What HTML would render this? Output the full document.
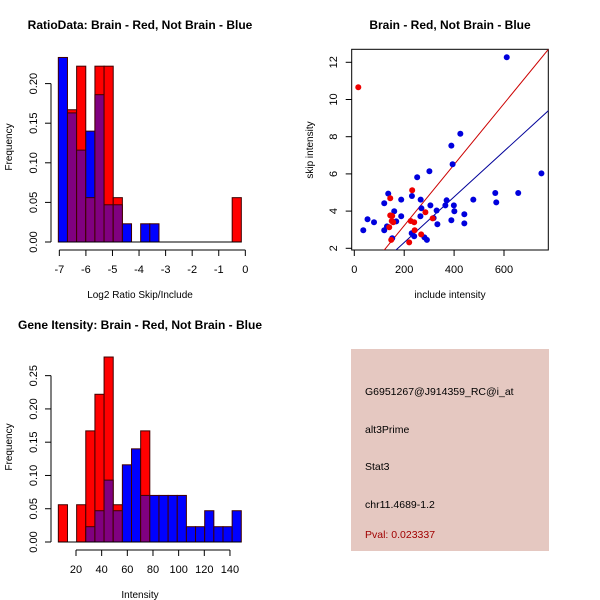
<!DOCTYPE html>
<html><head><meta charset="utf-8"><style>
body{margin:0;background:#fff}
svg{display:block;font-family:"Liberation Sans",sans-serif}
</style></head><body>
<svg id="c" width="600" height="600" viewBox="0 0 600 600">
<rect width="600" height="600" fill="#fff"/>
</svg>
<script>
// ---- Panel 1: ratio histogram ----
const ratioBinStart = -7.038;
const ratioBinWidth = 0.3444;
const ratioBlue = [0.233,0.163,0.116,0.140,0.186,0.047,0.047,0.023,0,0.023,0.023,0,0,0,0,0,0,0,0,0];
const ratioRed  = [0,0.167,0.222,0.056,0.222,0.222,0.056,0,0,0,0,0,0,0,0,0,0,0,0,0.056];
const ratioXTicks = [-7,-6,-5,-4,-3,-2,-1,0];
const ratioYTicks = [0,0.05,0.10,0.15,0.20];
const ratioYLabels = ["0.00","0.05","0.10","0.15","0.20"];
// ---- Panel 2: scatter ----
const blueX = [36,53,79,120,120,131,136,152,160,168,188,188,231,230,240,252,265,266,269,281,291,301,305,318,330,333,365,370,389,389,394,399,401,425,441,441,477,565,569,611,657,750];
const blueY = [2.97,3.56,3.40,4.42,2.97,3.18,4.94,2.54,3.99,3.45,4.62,3.72,4.81,2.81,2.65,5.82,3.72,4.62,4.15,2.59,2.45,6.14,4.31,3.63,4.03,3.29,4.31,4.58,3.51,7.52,6.52,4.31,3.99,8.16,3.83,3.34,4.62,4.97,4.47,12.27,4.97,6.03];
const redX = [16,144,140,144,150,152,156,148,232,226,240,242,220,285,268,314];
const redY = [10.66,4.69,3.13,3.77,3.47,3.74,3.40,2.45,5.12,3.47,3.40,2.97,2.32,3.94,2.75,3.61];
const redFit = [-0.06,0.0164];   // intercept, slope
const blueFit = [-0.14,0.01226];
const scXTicks = [0,200,400,600];
const scYTicks = [2,4,6,8,10,12];
// ---- Panel 3: intensity histogram ----
const intBinStart = 6.23;
const intBinWidth = 7.13;
const intRed  = [0.056,0,0.056,0.167,0.222,0.278,0.056,0,0,0.167,0,0,0,0,0,0,0,0,0,0];
const intBlue = [0,0,0,0.023,0.047,0.093,0.047,0.116,0.140,0.070,0.070,0.070,0.070,0.070,0.023,0.023,0.047,0.023,0.023,0.047];
const intXTicks = [20,40,60,80,100,120,140];
const intYTicks = [0,0.05,0.10,0.15,0.20,0.25];
const intYLabels = ["0.00","0.05","0.10","0.15","0.20","0.25"];
// ---- Panel 4: info ----
const infoLines = ["G6951267@J914359_RC@i_at","alt3Prime","Stat3","chr11.4689-1.2"];
const infoPval = "Pval: 0.023337";

const svg = document.getElementById('c');
const NS = 'http://www.w3.org/2000/svg';
function mk(tag, attrs, parent){
  const e = document.createElementNS(NS, tag);
  for (const k in attrs) e.setAttribute(k, attrs[k]);
  (parent||svg).appendChild(e);
  return e;
}
function txt(s, x, y, size, opts, parent){
  const t = mk('text', Object.assign({x:x, y:y, 'font-size':size, fill:'#000'}, opts||{}), parent);
  t.textContent = s;
  return t;
}

function histogram(cfg){
  const g = mk('g', {});
  
  
  const n = cfg.blue.length;
  for (let i=0;i<n;i++){
    const x0 = cfg.sx(cfg.start + i*cfg.width), x1 = cfg.sx(cfg.start + (i+1)*cfg.width);
    const b = cfg.blue[i], r = cfg.red[i];
    const lo = Math.min(b,r), hi = Math.max(b,r);
    if (hi <= 0) continue;
    const topColor = b > r ? '#0000ff' : '#ff0000';
    const bar = mk('rect', {x:x0, y:cfg.sy(hi), width:x1-x0, height:cfg.sy(0)-cfg.sy(hi), fill:topColor, stroke:'#400000', 'stroke-width':1}, g);
    
    
    if (lo > 0){
      const ov = mk('rect', {x:x0, y:cfg.sy(lo), width:x1-x0, height:cfg.sy(0)-cfg.sy(lo), fill:'#800080', stroke:'#400000', 'stroke-width':1}, g);
      
      
    }
  }
  mk('line', {x1:cfg.sx(cfg.start), x2:cfg.sx(cfg.start+n*cfg.width), y1:cfg.sy(0), y2:cfg.sy(0), stroke:'#000'}, g);
  const ya = mk('g', {}, g);
  
  
  const yt = cfg.yTicks;
  mk('line', {x1:cfg.axX, x2:cfg.axX, y1:cfg.sy(yt[0]), y2:cfg.sy(yt[yt.length-1]), stroke:'#000'}, ya);
  yt.forEach((v,i)=>{
    mk('line', {x1:cfg.axX-6, x2:cfg.axX, y1:cfg.sy(v), y2:cfg.sy(v), stroke:'#000'}, ya);
    const yy = cfg.sy(v);
    const lx = cfg.axX-14;
    txt(cfg.yLabels[i], lx, yy, 11, {'text-anchor':'middle', transform:'rotate(-90 '+lx+' '+yy+')'}, ya);
  });
  const xa = mk('g', {}, g);
  
  
  const xt = cfg.xTicks;
  mk('line', {x1:cfg.sx(xt[0]), x2:cfg.sx(xt[xt.length-1]), y1:cfg.axY, y2:cfg.axY, stroke:'#000'}, xa);
  xt.forEach(v=>{
    mk('line', {x1:cfg.sx(v), x2:cfg.sx(v), y1:cfg.axY, y2:cfg.axY+6, stroke:'#000'}, xa);
    txt(String(v), cfg.sx(v), cfg.axY+23, 11, {'text-anchor':'middle'}, xa);
  });
  const t = txt(cfg.title, cfg.titleX, cfg.titleY, 12, {'text-anchor':'middle', 'font-weight':'bold'});
  
  
  const xl = txt(cfg.xLabel, cfg.titleX, cfg.xLabelY, 10, {'text-anchor':'middle'});
  
  
  const ylx = 12, yly = cfg.yLabelY;
  const yl = txt('Frequency', ylx, yly, 10, {'text-anchor':'middle', transform:'rotate(-90 '+ylx+' '+yly+')'});
  
  
}

histogram({
  name:'ratio-histogram', blue:ratioBlue, red:ratioRed, start:ratioBinStart, width:ratioBinWidth,
  sx: v => 59.33 + (v + 7) * 26.57,
  sy: v => 242 - v / 0.05 * 39.6,
  axX: 51, axY: 250, xTicks: ratioXTicks, yTicks: ratioYTicks, yLabels: ratioYLabels,
  title: 'RatioData: Brain - Red, Not Brain - Blue', titleX: 140, titleY: 29,
  xLabel: 'Log2 Ratio Skip/Include', xLabelY: 298, yLabelY: 147
});

histogram({
  name:'intensity-histogram', blue:intBlue, red:intRed, start:intBinStart, width:intBinWidth,
  sx: v => 76 + (v - 20) * 1.283,
  sy: v => 542 - v / 0.05 * 33.27,
  axX: 51, axY: 550, xTicks: intXTicks, yTicks: intYTicks, yLabels: intYLabels,
  title: 'Gene Itensity: Brain - Red, Not Brain - Blue', titleX: 140, titleY: 329,
  xLabel: 'Intensity', xLabelY: 598, yLabelY: 447
});

(function(){
  const sx = v => 354.3 + v * 0.2495;
  const sy = v => 248.3 - (v - 2) * 18.6;
  const g = mk('g', {});
  
  
  const box = mk('rect', {x:351.7, y:49.3, width:196.6, height:200.7, fill:'none', stroke:'#000'}, g);
  
  
  const clip = mk('clipPath', {id:'scclip'}, g);
  mk('rect', {x:351.7, y:49.3, width:196.6, height:200.7}, clip);
  const xmin = -10, xmax = 790;
  const rl = mk('line', {x1:sx(xmin), y1:sy(redFit[0]+redFit[1]*xmin), x2:sx(xmax), y2:sy(redFit[0]+redFit[1]*xmax), stroke:'#cc0000', 'clip-path':'url(#scclip)'}, g);
  
  
  const bl = mk('line', {x1:sx(xmin), y1:sy(blueFit[0]+blueFit[1]*xmin), x2:sx(xmax), y2:sy(blueFit[0]+blueFit[1]*xmax), stroke:'#000099', 'clip-path':'url(#scclip)'}, g);
  
  
  blueX.forEach((x,i)=>{
    const p = mk('circle', {cx:sx(x), cy:sy(blueY[i]), r:3, fill:'#0000dd'}, g);
    
    
  });
  redX.forEach((x,i)=>{
    const p = mk('circle', {cx:sx(x), cy:sy(redY[i]), r:3, fill:'#ee0000'}, g);
    
    
  });
  const xa = mk('g', {}, g);
  
  
  scXTicks.forEach(v=>{
    mk('line', {x1:sx(v), x2:sx(v), y1:250, y2:256, stroke:'#000'}, xa);
    txt(String(v), sx(v), 273, 11, {'text-anchor':'middle'}, xa);
  });
  const ya = mk('g', {}, g);
  
  
  scYTicks.forEach(v=>{
    mk('line', {x1:345.7, x2:351.7, y1:sy(v), y2:sy(v), stroke:'#000'}, ya);
    txt(String(v), 337, sy(v), 11, {'text-anchor':'middle', transform:'rotate(-90 337 '+sy(v)+')'}, ya);
  });
  const t = txt('Brain - Red, Not Brain - Blue', 450, 29, 12, {'text-anchor':'middle','font-weight':'bold'});
  
  
  const xl = txt('include intensity', 450, 298, 10, {'text-anchor':'middle'});
  
  
  const yl = txt('skip intensity', 313, 150, 10, {'text-anchor':'middle', transform:'rotate(-90 313 150)'});
  
  
})();

(function(){
  const g = mk('g', {});
  
  
  mk('rect', {x:351, y:349, width:198, height:202, fill:'#e5c8c1'}, g);
  const ys = [395, 433, 470, 508];
  infoLines.forEach((s,i)=>{
    const t = txt(s, 365, ys[i], 10.5, {}, g);
    
    
  });
  const p = txt(infoPval, 365, 538, 10.5, {fill:'#a00000'}, g);
  
  
})();
</script>
</body></html>
